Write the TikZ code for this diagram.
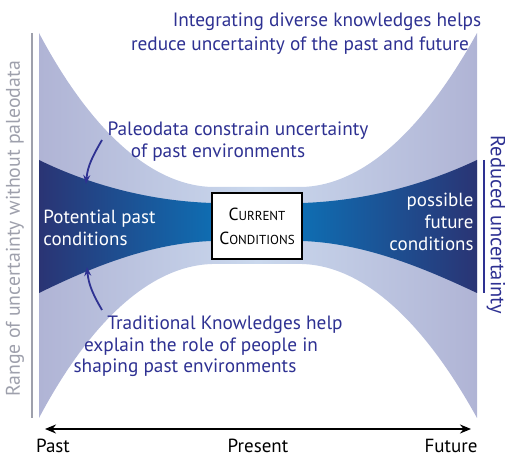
\documentclass[tikz,border=0pt]{standalone}
\usepackage{fontspec}
\setmainfont{PT Sans}
\usetikzlibrary{positioning, calc, arrows.meta}
\definecolor{inkblue}{RGB}{46,49,146}
\definecolor{fogblue}{RGB}{176,180,213}
\definecolor{paleblue}{RGB}{202,216,237}
\definecolor{navyblue}{RGB}{42,52,116}
\definecolor{brightblue}{RGB}{8,124,194}
\definecolor{rangegray}{RGB}{158,160,172}
\newcommand{\smallcap}[2]{#1{\fontsize{13}{13}\selectfont #2}}

\begin{document}
\begin{tikzpicture}[x=1pt, y=1pt, thick,
    txt/.style={text=inkblue, font=\fontsize{19.3}{22.5}\selectfont, inner sep=0pt},
    inside/.style={text=white, font=\fontsize{19}{22}\selectfont, inner sep=0pt},
    hint/.style={draw=inkblue, line width=1.8pt, -{Stealth[length=9pt, width=7pt]}}]

        \useasboundingbox (0,0) rectangle (505,457);

        % ===================================================
        % Wide funnel (uncertainty without paleodata)
        % ===================================================
        \path[left color=fogblue, right color=fogblue, middle color=paleblue]
            (39,424) .. controls (85,337) and (145,272) .. (212,270)
            -- (302,270) .. controls (369,272) and (429,337) .. (477,424)
            -- (477,39) .. controls (429,126) and (369,191) .. (302,193)
            -- (212,193) .. controls (145,191) and (85,126) .. (39,39)
            -- cycle;

        % ===================================================
        % Narrow funnel (reduced uncertainty)
        % ===================================================
        \path[left color=navyblue, right color=navyblue, middle color=brightblue]
            (39,297) .. controls (90,272) and (150,256) .. (212,254)
            -- (302,254) .. controls (364,256) and (424,272) .. (477,297)
            -- (477,164) .. controls (424,189) and (364,214) .. (302,216)
            -- (212,216) .. controls (150,214) and (90,189) .. (39,164)
            -- cycle;

        % ===================================================
        % Present box
        % ===================================================
        \node[draw=black, fill=white, line width=2pt, minimum width=90pt, minimum height=66pt,
              align=center, font=\fontsize{17.5}{24}\selectfont] (now) at (257,231)
            {\smallcap{C}{URRENT}\\\smallcap{C}{ONDITIONS}};

        % ===================================================
        % Text inside the funnels
        % ===================================================
        \node[inside, align=left, anchor=west] (pastcond) at (43,229) {Potential past\\conditions};
        \node[inside, align=right, anchor=east] (futcond) at (474,235) {possible\\future\\conditions};

        % ===================================================
        % Annotations
        % ===================================================
        \node[txt] (integ1) at (327,435) {Integrating diverse knowledges helps};
        \node[txt] (integ2) at (300,411) {reduce uncertainty of the past and future};

        \node[txt] (paleo1) at (238,326) {Paleodata constrain uncertainty};
        \node[txt] (paleo2) at (218,304) {of past environments};

        \node[txt] (trad1) at (225,132) {Traditional Knowledges help};
        \node[txt] (trad2) at (201,110) {explain the role of people in};
        \node[txt] (trad3) at (185,89) {shaping past environments};

        % arrows onto the narrow funnel
        \coordinate (paleotail) at (102,317);
        \coordinate (paleotip) at (86,273);
        \coordinate (tradtail) at (102,147);
        \coordinate (tradtip) at (87,190);
        \draw[hint] (paleotail) to[out=240, in=85] (paleotip);
        \draw[hint] (tradtail) to[out=120, in=275] (tradtip);

        % ===================================================
        % Side bars
        % ===================================================
        \coordinate (rangetop) at (32,424);
        \coordinate (rangebot) at (32,39);
        \draw[rangegray, line width=2pt] (rangetop) -- (rangebot);
        \node[rotate=90, text=rangegray, font=\fontsize{19.8}{22}\selectfont, inner sep=0pt]
            (rangelbl) at (15,228) {Range of uncertainty without paleodata};

        \coordinate (redtop) at (484,297);
        \coordinate (redbot) at (484,164);
        \draw[inkblue, line width=2pt] (redtop) -- (redbot);
        \node[rotate=-90, txt, font=\fontsize{20.5}{22}\selectfont] (redlbl) at (496,232) {Reduced uncertainty};

        % ===================================================
        % Time axis
        % ===================================================
        \coordinate (axpast) at (45,28);
        \coordinate (axfut) at (471,28);
        \draw[line width=2pt, {Stealth[length=11pt, width=9pt]}-{Stealth[length=11pt, width=9pt]}] (axpast) -- (axfut);
        \node[font=\fontsize{19}{22}\selectfont, inner sep=0pt] (past) at (53,11) {Past};
        \node[font=\fontsize{19}{22}\selectfont, inner sep=0pt] (present) at (258,11) {Present};
        \node[font=\fontsize{19}{22}\selectfont, inner sep=0pt] (future) at (451,11) {Future};

    \end{tikzpicture}
\end{document}
